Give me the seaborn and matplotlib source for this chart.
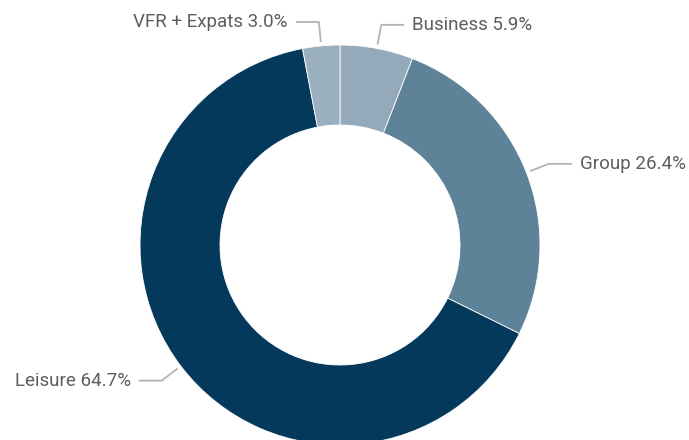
import numpy as np
import matplotlib
matplotlib.use("Agg")
import matplotlib.pyplot as plt
import seaborn as sns

# Dados do gráfico (ordem no sentido horário a partir do topo)
categorias = ["Business", "Group", "Leisure", "VFR + Expats"]
valores = [5.9, 26.4, 64.7, 3.0]
cores = ["#94aaba", "#5e8399", "#04395b", "#9bb0bf"]

sns.set_theme(style="white")
plt.rcParams['font.family'] = ['Roboto', 'DejaVu Sans']

fig = plt.figure(figsize=(6.89, 4.4), dpi=100)
ax = fig.add_axes([0, 0, 1, 1])

wedges, _ = ax.pie(valores, colors=cores, startangle=90, counterclock=False,
                   radius=1.0, wedgeprops=dict(width=0.4, edgecolor="white", linewidth=0.6))

# Rótulos com linhas de chamada
for w, cat, val in zip(wedges, categorias, valores):
    ang = np.deg2rad((w.theta1 + w.theta2) / 2)
    x0, y0 = 1.02 * np.cos(ang), 1.02 * np.sin(ang)
    x1, y1 = 1.12 * np.cos(ang), 1.12 * np.sin(ang)
    lado = 1 if np.cos(ang) >= 0 else -1
    x2 = x1 + lado * 0.115
    ax.plot([x0, x1, x2], [y0, y1, y1], color="#b3b3b3", lw=1.3, solid_capstyle="butt")
    ax.text(x2 + lado * 0.04, y1, f"{cat} {val:.1f}%", ha="left" if lado > 0 else "right",
            va="center", fontsize=13.5, color="#5f5d5b")

ax.set_aspect("equal")
ax.set_xlim(-340 / 200, (689 - 340) / 200)
ax.set_ylim(-(440 - 245) / 200, 245 / 200)
ax.axis("off")

fig.savefig("out.png", dpi=100)
